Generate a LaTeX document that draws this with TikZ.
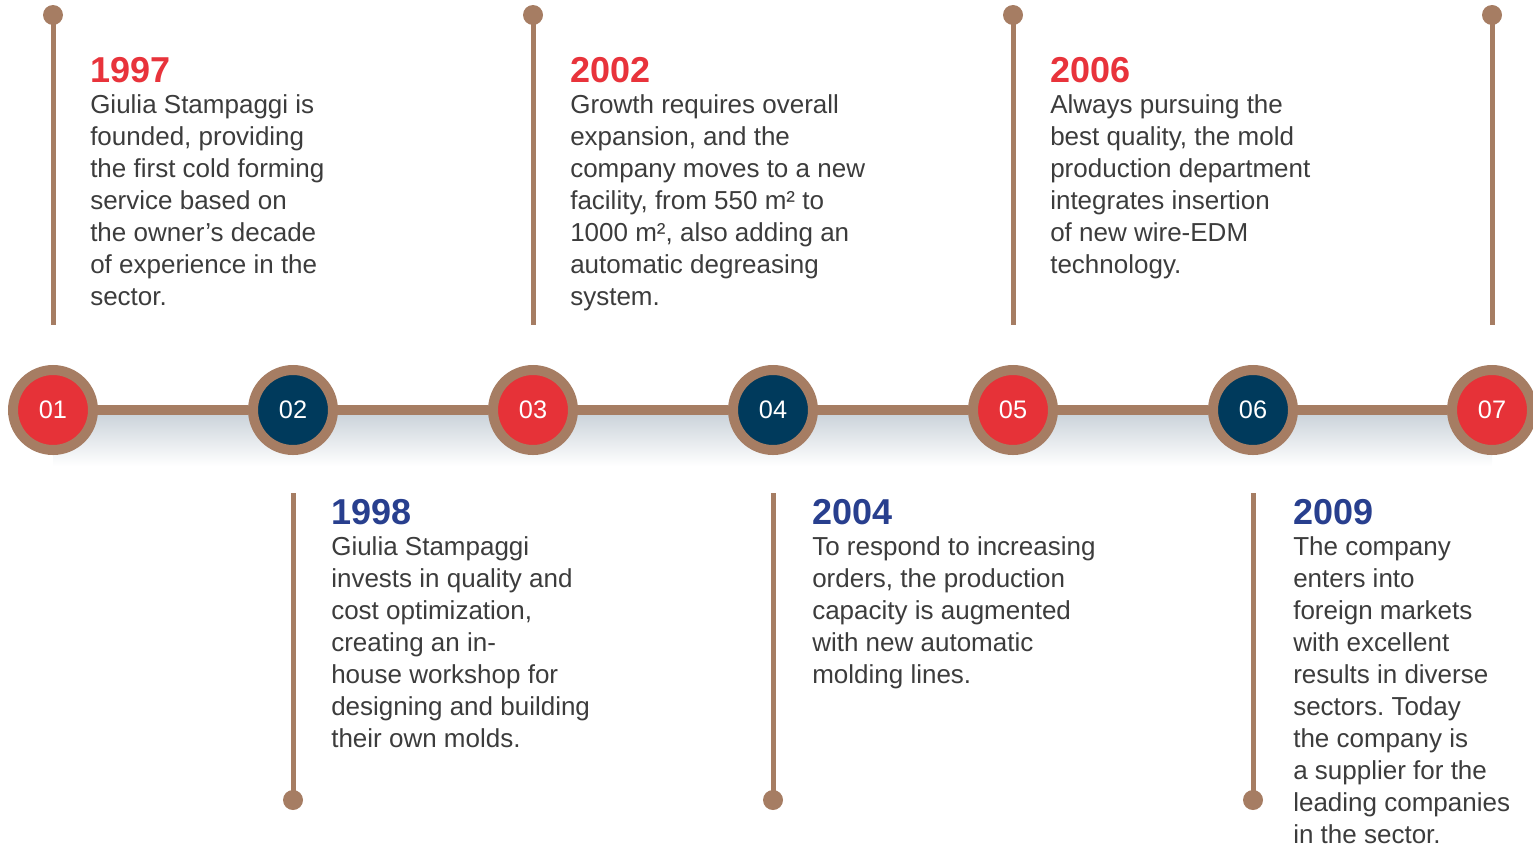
\documentclass[tikz,border=0pt]{standalone}
\usepackage{fontspec}
\setmainfont{Liberation Sans}
\frenchspacing
\definecolor{stembrown}{HTML}{A67D63}
\definecolor{yearred}{HTML}{E8333B}
\definecolor{dotred}{HTML}{E63238}
\definecolor{dotnavy}{HTML}{003A5C}
\definecolor{yearblue}{HTML}{283F8E}
\definecolor{bodygray}{HTML}{3C3C3C}
\definecolor{shadowgray}{HTML}{CBD3DA}

\begin{document}
\begin{tikzpicture}[x=0.75pt,y=-0.75pt,
  stage/.style={circle,draw=stembrown,line width=7.5pt,minimum size=60pt,inner sep=0pt,
    text=white,font=\fontsize{19}{19}\selectfont},
  stem/.style={stembrown,line width=3.75pt},
  year/.style={anchor=base west,inner sep=0pt,font=\fontsize{27}{27}\selectfont\bfseries},
  body/.style={anchor=north west,inner sep=0pt,align=left,text=bodygray,
    font=\fontsize{19.5}{24}\selectfont}]
\useasboundingbox (0,0) rectangle (1533,846);

% shadow under the time line
\shade[top color=shadowgray,bottom color=white] (53,414) rectangle (1492,466);

% stages
\node[stage,fill=dotred]  (c1) at (53,410)   {01};
\node[stage,fill=dotnavy] (c2) at (293,410)  {02};
\node[stage,fill=dotred]  (c3) at (533,410)  {03};
\node[stage,fill=dotnavy] (c4) at (773,410)  {04};
\node[stage,fill=dotred]  (c5) at (1013,410) {05};
\node[stage,fill=dotnavy] (c6) at (1253,410) {06};
\node[stage,fill=dotred]  (c7) at (1492,410) {07};
\foreach \i/\j in {1/2,2/3,3/4,4/5,5/6,6/7}
  \draw[stembrown,line width=7.5pt] (c\i) -- (c\j);

% stems above
\foreach \n/\x in {1/53,3/533,5/1013,7/1492} {
  \coordinate (t\n) at (\x,15);
  \coordinate (u\n) at (\x,325);
  \draw[stem] (t\n) -- (u\n);
  \fill[stembrown] (t\n) circle (7.5pt);
}
% stems below
\foreach \n/\x in {2/293,4/773,6/1253} {
  \coordinate (t\n) at (\x,493);
  \coordinate (u\n) at (\x,800);
  \draw[stem] (t\n) -- (u\n);
  \fill[stembrown] (u\n) circle (7.5pt);
}

% texts above
\node[year,text=yearred] (y1997) at (90,82) {1997};
\node[body] (b1997) at (90,94) {Giulia Stampaggi is\\founded, providing\\the first cold forming\\service based on\\the owner’s decade\\of experience in the\\sector.};
\node[year,text=yearred] (y2002) at (570,82) {2002};
\node[body] (b2002) at (570,94) {Growth requires overall\\expansion, and the\\company moves to a new\\facility, from 550 m² to\\1000 m², also adding an\\automatic degreasing\\system.};
\node[year,text=yearred] (y2006) at (1050,82) {2006};
\node[body] (b2006) at (1050,94) {Always pursuing the\\best quality, the mold\\production department\\integrates insertion\\of new wire-EDM\\technology.};

% texts below
\node[year,text=yearblue] (y1998) at (331,524) {1998};
\node[body] (b1998) at (331,536) {Giulia Stampaggi\\invests in quality and\\cost optimization,\\creating an in-\\house workshop for\\designing and building\\their own molds.};
\node[year,text=yearblue] (y2004) at (812,524) {2004};
\node[body] (b2004) at (812,536) {To respond to increasing\\orders, the production\\capacity is augmented\\with new automatic\\molding lines.};
\node[year,text=yearblue] (y2009) at (1293,524) {2009};
\node[body] (b2009) at (1293,536) {The company\\enters into\\foreign markets\\with excellent\\results in diverse\\sectors. Today\\the company is\\a supplier for the\\leading companies\\in the sector.};
\end{tikzpicture}
\end{document}
